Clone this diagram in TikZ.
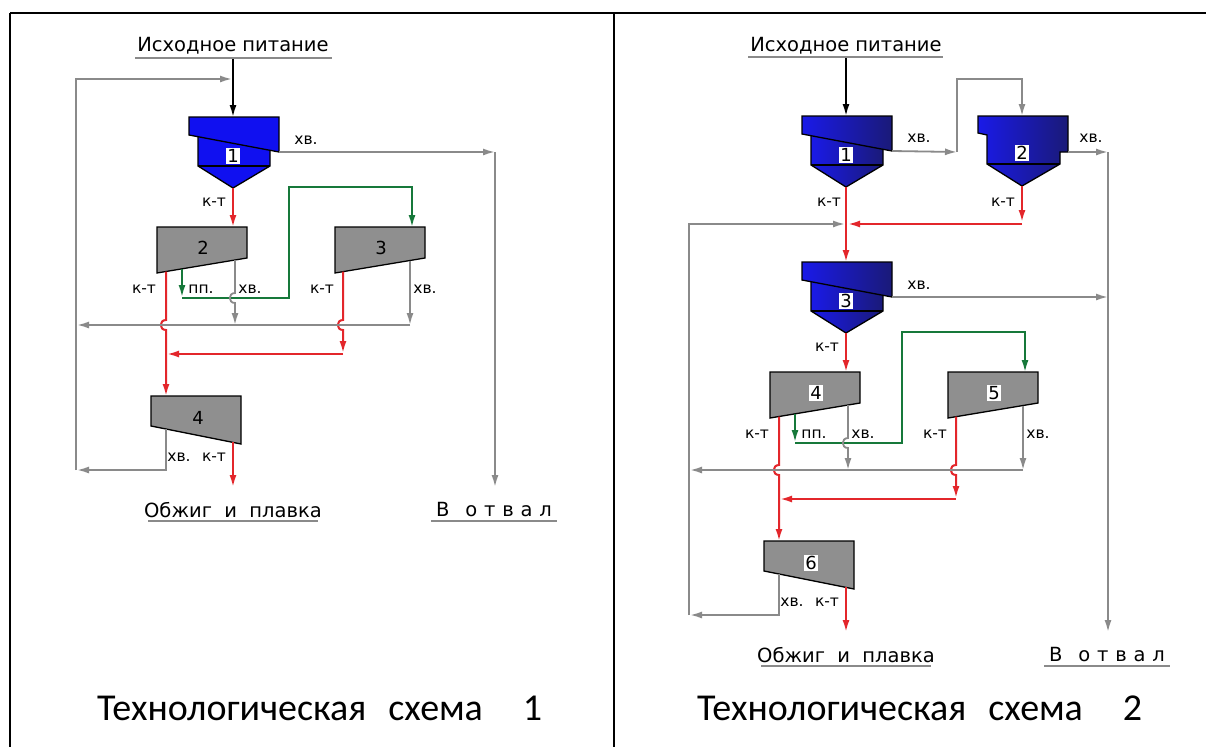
\documentclass[tikz,border=0pt]{standalone}
\usepackage{fontspec}
\setmainfont{DejaVu Sans}
\newfontfamily\titlefont{Carlito}
\usetikzlibrary{arrows.meta}
\definecolor{lgray}{HTML}{8A8A8A}
\definecolor{fred}{HTML}{E3262B}
\definecolor{fgreen}{HTML}{16783A}
\definecolor{tgray}{HTML}{8F8F8F}
\definecolor{cblue}{HTML}{1010F0}
\definecolor{cblueL}{HTML}{1A1AE8}
\definecolor{cblueD}{HTML}{1A1A78}
\tikzset{
  arr/.style={-{Latex[length=12pt,width=7pt]}},
  gl/.style={draw=lgray,line width=1.8pt},
  rl/.style={draw=fred,line width=2pt},
  gn/.style={draw=fgreen,line width=1.8pt},
  bl/.style={draw=black,line width=1.8pt},
  shp/.style={draw=black,line width=1.3pt,line join=miter},
  lshade/.style={fill=cblue},
  rshade/.style={left color=cblueL,right color=cblueD},
  lbl/.style={font=\fontsize{15.5}{15.5}\selectfont,inner sep=0pt},
  big/.style={font=\fontsize{19.5}{19.5}\selectfont,inner sep=0pt},
  ttl/.style={font=\titlefont\fontsize{38}{38}\selectfont,inner sep=0pt,anchor=base west},
  numbox/.style={fill=white,inner sep=1pt,font=\fontsize{18}{18}\selectfont},
  numplain/.style={inner sep=1pt,font=\fontsize{18}{18}\selectfont},
  uline/.style={draw=lgray,line width=2.5pt},
  frame/.style={draw=black,line width=2pt},
}
% hydrocyclone with slanted inlet
\newcommand\cycA[5]{%
  \begin{scope}[shift={(#2,#3)}]
    \path[shp,#5] (-35,10) -- (37,10) -- (37,49) -- (0,71) -- (-35,49) -- cycle;
    \draw[shp] (-35,49) -- (37,49);
    \path[shp,#5] (-44,0) -- (46,0) -- (46,35) -- (-44,18) -- cycle;
    \node[numbox] (#1) at (0,39) {#4};
    \coordinate (#1-top) at (0,0);
    \coordinate (#1-apex) at (0,71);
    \coordinate (#1-over) at (46,35);
  \end{scope}}
% hydrocyclone, stepped variant
\newcommand\cycB[5]{%
  \begin{scope}[shift={(#2,#3)}]
    \path[shp,#5] (-44,0) -- (46,0) -- (46,36) -- (38,36) -- (38,48) -- (0,70) -- (-35,48) -- (-35,19) -- (-44,17) -- cycle;
    \draw[shp] (-35,48) -- (38,48);
    \node[numbox] (#1) at (0,37) {#4};
    \coordinate (#1-top) at (0,0);
    \coordinate (#1-apex) at (0,70);
    \coordinate (#1-over) at (46,36);
  \end{scope}}
% concentration table, high on the right
\newcommand\tabA[5]{%
  \path[shp,fill=tgray] (#2,#3) -- ++(90,0) -- ++(0,31) -- ++(-90,15) -- cycle;
  \node[#5] (#1) at (#2+46,#3+21) {#4};}
% concentration table, high on the left
\newcommand\tabB[5]{%
  \path[shp,fill=tgray] (#2,#3) -- ++(90,0) -- ++(0,48) -- ++(-90,-18) -- cycle;
  \node[#5] (#1) at (#2+47,#3+22) {#4};}
% main flowsheet: #1 cyclone style, #2 cyclone no., #3-#5 table nos., #6 number style
\newcommand\flowsheet[6]{%
  \cycA{cyc}{233}{117}{#2}{#1}
  \tabA{ta}{157}{227}{#3}{#6}
  \tabA{tb}{335}{227}{#4}{#6}
  \tabB{tc}{151}{396}{#5}{#6}
  \coordinate (loopbl) at (76,470);
  \coordinate (looptl) at (76,79);
  \coordinate (dump) at (495,152);
  \coordinate (collect) at (410,325);
  % recirculation loop
  \draw[gl,arr] (166,429) -- (166,470) -- (77,470);
  \draw[gl,arr] (loopbl) -- (looptl) -- (232,79);
  % cyclone overflow to tailings
  \draw[gl,arr] (cyc-over) -- (dump);
  \draw[gl,arr] (dump) -- (495,487);
  % cyclone underflow to table a
  \draw[rl,arr] (cyc-apex) -- (233,227);
  % table a concentrate
  \draw[rl,arr] (166,271.5) -- (166,320) .. controls +(-7,0) and +(-7,0) .. (166,330) -- (166,396);
  % table a middlings to table b
  \draw[gn,arr] (182,268.8) -- (182,297);
  \draw[gn,arr] (182,298) -- (289,298) -- (289,187) -- (412,187) -- (412,227);
  % table a tailings
  \draw[gl,arr] (235,260) -- (235,293) .. controls +(-7,0) and +(-7,0) .. (235,303) -- (235,325);
  % table b concentrate
  \draw[rl,arr] (343,271.7) -- (343,320) .. controls +(-7,0) and +(-7,0) .. (343,330) -- (343,353);
  \draw[rl,arr] (343,354) -- (167,354);
  % table b tailings
  \draw[gl,arr] (410,260.5) -- (collect);
  \draw[gl,arr] (collect) -- (77,325);
  % table c concentrate
  \draw[rl,arr] (233,442.4) -- (233,487);
  % labels
  \node[lbl] (l1) at (306,140) {хв.};
  \node[lbl] (l2) at (214,202) {к-т};
  \node[lbl] (l3) at (144,289) {к-т};
  \node[lbl] (l4) at (201,289) {пп.};
  \node[lbl] (l5) at (250,289) {хв.};
  \node[lbl] (l6) at (322,289) {к-т};
  \node[lbl] (l7) at (425,289) {хв.};
  \node[lbl] (l8) at (179,457) {хв.};
  \node[lbl] (l9) at (214,457) {к-т};
  \node[big] (out1) at (233,510) {Обжиг\ \ и\ \ плавка};
  \draw[uline] (148,521) -- (318,521);
  \node[big] (out2) at (494,510) {В\hspace{16pt}{\addfontfeature{LetterSpace=35}отвал}};
  \draw[uline] (431,521) -- (557,521);
}
\begin{document}
\begin{tikzpicture}[x=1pt,y=-1pt]
\useasboundingbox (0,0) rectangle (1206,747);
\fill[white] (0,0) rectangle (1206,747);
% frame
\draw[frame] (10,13) -- (1206,13);
\draw[frame] (10,13) -- (10,747);
\draw[frame] (614,13) -- (614,747);

% ---------- scheme 1 ----------
\begin{scope}[name prefix=L-]
  \flowsheet{lshade}{1}{2}{3}{4}{numplain}
\end{scope}
\node[big] (feed1) at (233,46) {Исходное питание};
\draw[uline] (135,58) -- (332,58);
\draw[bl,arr] (233,59) -- (L-cyc-top);
\node[ttl] (title1) at (97,720) {Технологическая\hspace{22pt}схема\hspace{40pt}1};

% ---------- scheme 2 ----------
\begin{scope}[shift={(613,145)},name prefix=R-]
  \flowsheet{rshade}{3}{4}{5}{6}{numbox}
\end{scope}
\cycA{C1}{846}{116}{1}{rshade}
\cycB{C2}{1022}{116}{2}{rshade}
\coordinate (split) at (957,152);
\coordinate (dump2) at (1108,152);
\node[big] (feed2) at (846,46) {Исходное питание};
\draw[uline] (748,57) -- (943,57);
\draw[bl,arr] (846,58) -- (C1-top);
\draw[gl,arr] (C1-over) -- (split);
\draw[gl,arr] (split) -- (957,79) -- (1022,79) -- (C2-top);
\draw[gl,arr] (C2-over) -- (dump2);
\draw[gl] (dump2) -- (1108,300);
\draw[rl,arr] (C1-apex) -- (R-cyc-top);
\draw[rl,arr] (C2-apex) -- (1022,222);
\draw[rl,arr] (1022,224) -- (848,224);
\node[lbl] (m1) at (919,138) {хв.};
\node[lbl] (m2) at (1091,138) {хв.};
\node[lbl] (m3) at (829,202) {к-т};
\node[lbl] (m4) at (1003,202) {к-т};
\node[ttl] (title2) at (697,720) {Технологическая\hspace{22pt}схема\hspace{40pt}2};
\end{tikzpicture}
\end{document}
